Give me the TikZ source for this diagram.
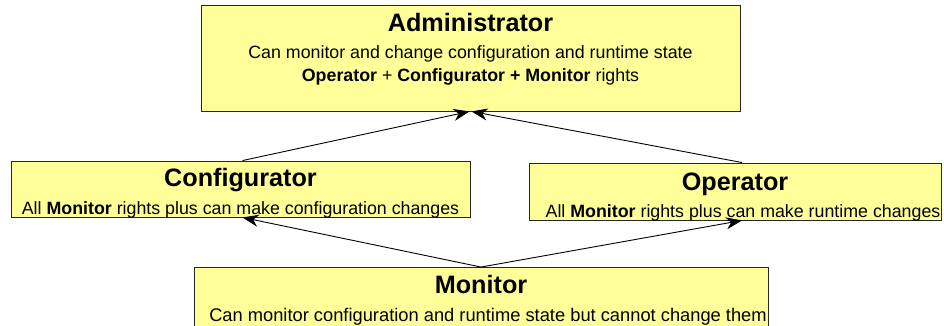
\documentclass[tikz,border=0pt]{standalone}
\usepackage{fontspec}
\setmainfont{Liberation Sans}
\usetikzlibrary{arrows.meta}
\definecolor{rolefill}{RGB}{255,255,153}
\tikzset{
  rolebox/.style={draw=black!85, fill=rolefill, line width=0.9pt, inner sep=0pt},
  roletitle/.style={font=\fontsize{25.2}{26}\selectfont\bfseries, inner sep=0pt, anchor=base},
  roletext/.style={font=\fontsize{17.8}{24}\selectfont, inner sep=0pt, align=center, anchor=base},
  inherits/.style={-{Stealth[length=16pt,width=12pt,inset=5pt]}, line width=0.9pt}
}
\begin{document}
\begin{tikzpicture}[x=1pt,y=-1pt]
\clip (0,0) rectangle (944,326);
\fill[white] (0,0) rectangle (944,326);
% role boxes
\node[rolebox, minimum width=539pt, minimum height=106pt] (admin) at (470.5,58) {};
\node[rolebox, minimum width=459pt, minimum height=56pt] (config) at (240.5,189) {};
\node[rolebox, minimum width=412pt, minimum height=57pt] (oper) at (735,191.5) {};
\node[rolebox, minimum width=574pt, minimum height=70pt] (mon) at (481,302.5) {};
% titles
\node[roletitle] (admin-title) at ([yshift=-26.5pt]admin.north) {Administrator};
\node[roletitle] (config-title) at ([yshift=-26pt]config.north) {Configurator};
\node[roletitle] (oper-title) at ([yshift=-28pt]oper.north) {Operator};
\node[roletitle] (mon-title) at ([yshift=-26pt]mon.north) {Monitor};
% descriptions
\node[roletext] (admin-text) at ([yshift=-53.5pt]admin.north) {Can monitor and change configuration and runtime state};
\node[roletext] (admin-rights) at ([yshift=-77pt]admin.north) {\textbf{Operator} + \textbf{Configurator + Monitor} rights};
\node[roletext] (config-text) at ([yshift=-54pt]config.north) {All \textbf{Monitor} rights plus can make configuration changes};
\node[roletext] (oper-text) at ([xshift=8pt,yshift=-55pt]oper.north) {All \textbf{Monitor} rights plus can make runtime changes};
\node[roletext, font=\fontsize{18.3}{24}\selectfont] (mon-text) at ([xshift=7pt,yshift=-54.5pt]mon.north) {Can monitor configuration and runtime state but cannot change them};
% inheritance arrows
\draw[inherits] ([xshift=2pt]config.north) -- ([xshift=-1pt]admin.south);
\draw[inherits] ([xshift=7pt]oper.north) -- ([xshift=1pt]admin.south);
\draw[inherits] (mon.north) -- ([xshift=2pt]config.south);
\draw[inherits] (mon.north) -- ([xshift=7pt]oper.south);
\end{tikzpicture}
\end{document}
